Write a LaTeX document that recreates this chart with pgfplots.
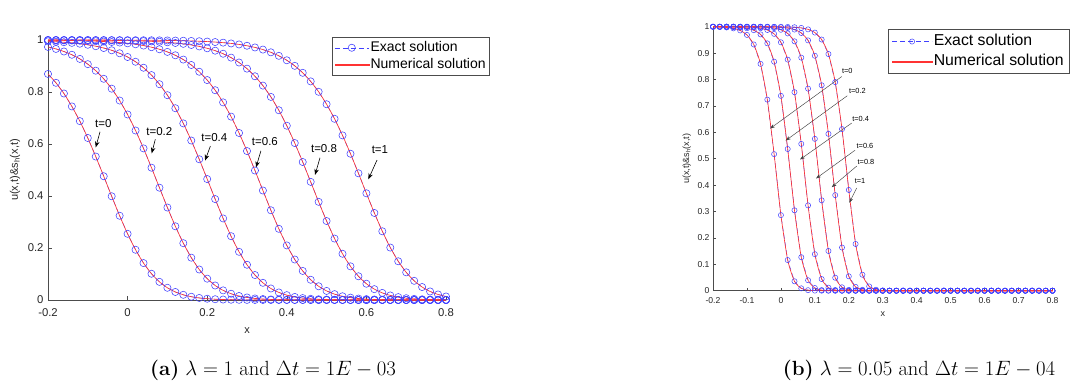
\documentclass[border=0pt]{standalone}
\usepackage{pgfplots}
\pgfplotsset{compat=1.18}
\usepackage{pgfplotstable}
\usepackage{fontspec}
\newfontfamily\arial{Liberation Sans}
\usetikzlibrary{arrows.meta}
\definecolor{mblue}{rgb}{0.25,0.25,1}
\definecolor{mred}{rgb}{1,0.2,0.2}
\definecolor{axgray}{rgb}{0.3,0.3,0.3}

\pgfplotstableread{
x a0 a1 a2 a3 a4 a5
-0.20 0.8694 0.9734 0.9949 0.9990 0.9998 1.0000
-0.18 0.8354 0.9657 0.9934 0.9988 0.9998 1.0000
-0.16 0.7942 0.9558 0.9915 0.9984 0.9997 0.9999
-0.14 0.7446 0.9432 0.9890 0.9979 0.9996 0.9999
-0.12 0.6880 0.9273 0.9857 0.9973 0.9995 0.9999
-0.10 0.6231 0.9071 0.9816 0.9965 0.9993 0.9999
-0.08 0.5517 0.8820 0.9762 0.9955 0.9992 0.9998
-0.06 0.4760 0.8508 0.9692 0.9941 0.9989 0.9998
-0.04 0.3990 0.8129 0.9604 0.9924 0.9986 0.9997
-0.02 0.3240 0.7672 0.9490 0.9901 0.9981 0.9997
0.00 0.2545 0.7135 0.9346 0.9872 0.9976 0.9995
0.02 0.1933 0.6519 0.9163 0.9835 0.9969 0.9994
0.04 0.1420 0.5831 0.8934 0.9786 0.9959 0.9992
0.06 0.1010 0.5089 0.8650 0.9724 0.9947 0.9990
0.08 0.0698 0.4320 0.8301 0.9644 0.9932 0.9987
0.10 0.0470 0.3557 0.7878 0.9542 0.9912 0.9983
0.12 0.0309 0.2835 0.7376 0.9412 0.9886 0.9978
0.14 0.0199 0.2185 0.6793 0.9247 0.9852 0.9972
0.16 0.0126 0.1628 0.6134 0.9039 0.9809 0.9964
0.18 0.0079 0.1174 0.5413 0.8779 0.9753 0.9953
0.20 0.0049 0.0821 0.4652 0.8459 0.9681 0.9939
0.22 0.0030 0.0558 0.3882 0.8069 0.9589 0.9921
0.24 0.0018 0.0371 0.3138 0.7601 0.9472 0.9898
0.26 0.0011 0.0241 0.2454 0.7053 0.9322 0.9868
0.28 0.0007 0.0154 0.1854 0.6425 0.9134 0.9829
0.30 0.0004 0.0097 0.1356 0.5729 0.8898 0.9779
0.32 0.0002 0.0060 0.0960 0.4981 0.8605 0.9714
0.34 0.0001 0.0037 0.0661 0.4211 0.8246 0.9631
0.36 0.0001 0.0023 0.0443 0.3452 0.7812 0.9526
0.38 0.0000 0.0014 0.0291 0.2738 0.7299 0.9391
0.40 0.0000 0.0008 0.0187 0.2100 0.6704 0.9220
0.42 0.0000 0.0005 0.0118 0.1557 0.6036 0.9006
0.44 0.0000 0.0003 0.0074 0.1118 0.5307 0.8738
0.46 0.0000 0.0002 0.0046 0.0779 0.4543 0.8408
0.48 0.0000 0.0001 0.0028 0.0528 0.3775 0.8008
0.50 0.0000 0.0000 0.0017 0.0349 0.3037 0.7529
0.52 0.0000 0.0000 0.0010 0.0226 0.2363 0.6969
0.54 0.0000 0.0000 0.0006 0.0144 0.1778 0.6331
0.56 0.0000 0.0000 0.0004 0.0091 0.1294 0.5626
0.58 0.0000 0.0000 0.0002 0.0056 0.0913 0.4873
0.60 0.0000 0.0000 0.0001 0.0035 0.0626 0.4103
0.62 0.0000 0.0000 0.0000 0.0021 0.0418 0.3348
0.64 0.0000 0.0000 0.0000 0.0013 0.0273 0.2643
0.66 0.0000 0.0000 0.0000 0.0008 0.0175 0.2017
0.68 0.0000 0.0000 0.0000 0.0005 0.0111 0.1489
0.70 0.0000 0.0000 0.0000 0.0003 0.0069 0.1064
0.72 0.0000 0.0000 0.0000 0.0002 0.0043 0.0738
0.74 0.0000 0.0000 0.0000 0.0001 0.0026 0.0499
0.76 0.0000 0.0000 0.0000 0.0001 0.0016 0.0329
0.78 0.0000 0.0000 0.0000 0.0000 0.0010 0.0213
0.80 0.0000 0.0000 0.0000 0.0000 0.0006 0.0135
}\tabA

\pgfplotstableread{
x b0 b1 b2 b3 b4 b5
-0.20 0.9994 0.9999 1.0000 1.0000 1.0000 1.0000
-0.18 0.9987 0.9998 1.0000 1.0000 1.0000 1.0000
-0.16 0.9971 0.9995 0.9999 1.0000 1.0000 1.0000
-0.14 0.9936 0.9988 0.9998 1.0000 1.0000 1.0000
-0.12 0.9859 0.9973 0.9995 0.9999 1.0000 1.0000
-0.10 0.9689 0.9940 0.9989 0.9998 1.0000 1.0000
-0.08 0.9328 0.9868 0.9975 0.9995 0.9999 1.0000
-0.06 0.8592 0.9709 0.9944 0.9989 0.9998 1.0000
-0.04 0.7238 0.9369 0.9876 0.9976 0.9996 0.9999
-0.02 0.5173 0.8675 0.9728 0.9948 0.9990 0.9998
0.00 0.2863 0.7381 0.9409 0.9884 0.9978 0.9996
0.02 0.1162 0.5367 0.8753 0.9745 0.9951 0.9991
0.04 0.0356 0.3045 0.7519 0.9446 0.9892 0.9979
0.06 0.0089 0.1269 0.5561 0.8828 0.9762 0.9954
0.08 0.0020 0.0396 0.3232 0.7653 0.9482 0.9899
0.10 0.0004 0.0101 0.1383 0.5752 0.8899 0.9777
0.12 0.0001 0.0023 0.0442 0.3424 0.7782 0.9514
0.14 0.0000 0.0005 0.0114 0.1505 0.5941 0.8965
0.16 0.0000 0.0001 0.0026 0.0491 0.3621 0.7902
0.18 0.0000 0.0000 0.0006 0.0129 0.1635 0.6122
0.20 0.0000 0.0000 0.0001 0.0030 0.0546 0.3816
0.22 0.0000 0.0000 0.0000 0.0006 0.0145 0.1770
0.24 0.0000 0.0000 0.0000 0.0001 0.0034 0.0605
0.26 0.0000 0.0000 0.0000 0.0000 0.0007 0.0163
0.28 0.0000 0.0000 0.0000 0.0000 0.0002 0.0038
0.30 0.0000 0.0000 0.0000 0.0000 0.0000 0.0008
0.32 0.0000 0.0000 0.0000 0.0000 0.0000 0.0002
0.34 0 0 0 0 0 0
0.36 0 0 0 0 0 0
0.38 0 0 0 0 0 0
0.40 0 0 0 0 0 0
0.42 0 0 0 0 0 0
0.44 0 0 0 0 0 0
0.46 0 0 0 0 0 0
0.48 0 0 0 0 0 0
0.50 0 0 0 0 0 0
0.52 0 0 0 0 0 0
0.54 0 0 0 0 0 0
0.56 0 0 0 0 0 0
0.58 0 0 0 0 0 0
0.60 0 0 0 0 0 0
0.62 0 0 0 0 0 0
0.64 0 0 0 0 0 0
0.66 0 0 0 0 0 0
0.68 0 0 0 0 0 0
0.70 0 0 0 0 0 0
0.72 0 0 0 0 0 0
0.74 0 0 0 0 0 0
0.76 0 0 0 0 0 0
0.78 0 0 0 0 0 0
0.80 0 0 0 0 0 0
}\tabB

\pgfplotsset{
  exA/.style={mblue, line width=0.45pt, dash pattern=on 5pt off 3pt, mark=o, mark size=3.6pt, mark options={solid, line width=0.55pt}},
  numA/.style={mred, line width=0.65pt, smooth, tension=0.4},
  exB/.style={mblue, line width=0.45pt, dash pattern=on 5pt off 3pt, mark=o, mark size=2.6pt, mark options={solid, line width=0.5pt}},
  numB/.style={mred, line width=0.65pt, smooth, tension=0.4},
}
\tikzset{
  arrA/.style={-{Stealth[length=6pt,width=4.5pt]}, black, line width=0.6pt},
  arrB/.style={-{Stealth[length=5pt,width=3.5pt]}, black!75, line width=0.45pt},
}

\begin{document}
\begin{tikzpicture}
\path[use as bounding box] (0pt,0pt) rectangle (1073pt,-385pt);

% ---------------- (a)
\begin{axis}[
  at={(48pt,-300pt)}, anchor=south west, scale only axis,
  width=398pt, height=260pt,
  xmin=-0.2, xmax=0.8, ymin=0, ymax=1,
  axis x line*=bottom, axis y line*=left,
  axis line style={axgray, line width=0.5pt},
  xtick={-0.2,0,0.2,0.4,0.6,0.8}, xticklabels={-0.2,0,0.2,0.4,0.6,0.8},
  ytick={0,0.2,0.4,0.6,0.8,1}, yticklabels={0,0.2,0.4,0.6,0.8,1},
  xtick align=inside, ytick align=inside, major tick length=4pt,
  tick style={axgray, line width=0.5pt},
  ticklabel style={font=\arial\fontsize{11.3}{13}\selectfont, text=black!85},
  xticklabel style={yshift=-5.5pt},
  yticklabel style={xshift=-1pt},
  xlabel={x}, ylabel={u(x,t)\&s\textsubscript{h}(x,t)},
  every axis x label/.style={at={(axis description cs:0.5,-0.119)}, anchor=center, font=\arial\fontsize{11}{13}\selectfont, text=black!85},
  every axis y label/.style={at={(axis description cs:-0.083,0.5)}, anchor=center, rotate=90, font=\arial\fontsize{11}{13}\selectfont, text=black!85},
  legend image code/.code={\draw[mark repeat=2,mark phase=2,#1] plot coordinates {(0pt,0pt) (17pt,0pt) (34pt,0pt)};},
  legend style={name=legA, at={(1.109,1.01)}, anchor=north east, draw=none,
    font=\arial\fontsize{14}{16}\selectfont, inner xsep=2pt, inner ysep=1.5pt,
    nodes={inner sep=1.5pt, text height=10.5pt, text depth=3.8pt}},
  legend cell align=left,
  clip=false,
]
\addlegendimage{exA}
\addlegendentry{Exact solution}
\addlegendimage{legend image code/.code={\fill[mred] (0pt,-0.55pt) rectangle (34pt,0.55pt);}}
\addlegendentry{Numerical solution}
\addplot[exA, forget plot] table[x=x,y=a0]{\tabA};
\addplot[exA, forget plot] table[x=x,y=a1]{\tabA};
\addplot[exA, forget plot] table[x=x,y=a2]{\tabA};
\addplot[exA, forget plot] table[x=x,y=a3]{\tabA};
\addplot[exA, forget plot] table[x=x,y=a4]{\tabA};
\addplot[exA, forget plot] table[x=x,y=a5]{\tabA};
\addplot[numA, forget plot] table[x=x,y=a0]{\tabA};
\addplot[numA, forget plot] table[x=x,y=a1]{\tabA};
\addplot[numA, forget plot] table[x=x,y=a2]{\tabA};
\addplot[numA, forget plot] table[x=x,y=a3]{\tabA};
\addplot[numA, forget plot] table[x=x,y=a4]{\tabA};
\addplot[numA, forget plot] table[x=x,y=a5]{\tabA};

\begin{scope}[font=\arial\fontsize{11.5}{13}\selectfont]
\node at (axis cs:-0.061,0.680) {t=0};
\draw[arrA] (axis cs:-0.0693,0.647) -- (axis cs:-0.0801,0.587);
\node at (axis cs:0.0797,0.647) {t=0.2};
\draw[arrA] (axis cs:0.0696,0.618) -- (axis cs:0.0605,0.564);
\node at (axis cs:0.218,0.626) {t=0.4};
\draw[arrA] (axis cs:0.208,0.592) -- (axis cs:0.1945,0.536);
\node at (axis cs:0.345,0.609) {t=0.6};
\draw[arrA] (axis cs:0.335,0.574) -- (axis cs:0.3226,0.510);
\node at (axis cs:0.4935,0.583) {t=0.8};
\draw[arrA] (axis cs:0.4834,0.547) -- (axis cs:0.4709,0.481);
\node at (axis cs:0.634,0.577) {t=1};
\draw[arrA] (axis cs:0.6266,0.538) -- (axis cs:0.6048,0.464);
\end{scope}
\end{axis}
\draw[axgray, line width=0.5pt] (legA.south west) rectangle (legA.north east);

% ---------------- (b)
\begin{axis}[
  at={(713pt,-290.7pt)}, anchor=south west, scale only axis,
  width=339.5pt, height=264pt,
  xmin=-0.2, xmax=0.8, ymin=0, ymax=1,
  axis x line*=bottom, axis y line*=left,
  axis line style={axgray, line width=0.5pt},
  xtick={-0.2,-0.1,0,0.1,0.2,0.3,0.4,0.5,0.6,0.7,0.8},
  xticklabels={-0.2,-0.1,0,0.1,0.2,0.3,0.4,0.5,0.6,0.7,0.8},
  ytick={0,0.1,0.2,0.3,0.4,0.5,0.6,0.7,0.8,0.9,1},
  yticklabels={0,0.1,0.2,0.3,0.4,0.5,0.6,0.7,0.8,0.9,1},
  xtick align=inside, ytick align=inside, major tick length=3pt,
  tick style={axgray, line width=0.5pt},
  ticklabel style={font=\arial\fontsize{8.6}{10}\selectfont, text=black!85},
  xticklabel style={yshift=-3pt},
  xlabel={x}, ylabel={u(x,t)\&s\textsubscript{h}(x,t)},
  every axis x label/.style={at={(axis description cs:0.5,-0.088)}, anchor=center, font=\arial\fontsize{9}{11}\selectfont, text=black!85},
  every axis y label/.style={at={(axis description cs:-0.077,0.5)}, anchor=center, rotate=90, font=\arial\fontsize{9}{11}\selectfont, text=black!85},
  legend image code/.code={\draw[mark repeat=2,mark phase=2,#1] plot coordinates {(0pt,0pt) (20pt,0pt) (40pt,0pt)};},
  legend style={name=legB, at={(1.0485,0.99)}, anchor=north east, draw=none,
    font=\arial\fontsize{15.8}{18}\selectfont, inner xsep=3.5pt, inner ysep=2pt,
    nodes={inner sep=1.5pt, text height=12.5pt, text depth=4.5pt}},
  legend cell align=left,
  clip=false,
]
\addlegendimage{exB}
\addlegendentry{Exact solution}
\addlegendimage{legend image code/.code={\fill[mred] (0pt,-0.55pt) rectangle (40pt,0.55pt);}}
\addlegendentry{Numerical solution}
\addplot[exB, forget plot] table[x=x,y=b0]{\tabB};
\addplot[exB, forget plot] table[x=x,y=b1]{\tabB};
\addplot[exB, forget plot] table[x=x,y=b2]{\tabB};
\addplot[exB, forget plot] table[x=x,y=b3]{\tabB};
\addplot[exB, forget plot] table[x=x,y=b4]{\tabB};
\addplot[exB, forget plot] table[x=x,y=b5]{\tabB};
\addplot[numB, forget plot] table[x=x,y=b0]{\tabB};
\addplot[numB, forget plot] table[x=x,y=b1]{\tabB};
\addplot[numB, forget plot] table[x=x,y=b2]{\tabB};
\addplot[numB, forget plot] table[x=x,y=b3]{\tabB};
\addplot[numB, forget plot] table[x=x,y=b4]{\tabB};
\addplot[numB, forget plot] table[x=x,y=b5]{\tabB};

\begin{scope}[font=\arial\fontsize{7.4}{9}\selectfont]
\node at (axis cs:0.1956,0.833) {t=0};
\draw[arrB] (axis cs:0.179,0.811) -- (axis cs:-0.0321,0.614);
\node at (axis cs:0.2253,0.755) {t=0.2};
\draw[arrB] (axis cs:0.1956,0.7385) -- (axis cs:0.0141,0.5687);
\node at (axis cs:0.235,0.652) {t=0.4};
\draw[arrB] (axis cs:0.2085,0.635) -- (axis cs:0.0563,0.497);
\node at (axis cs:0.2477,0.547) {t=0.6};
\draw[arrB] (axis cs:0.2183,0.532) -- (axis cs:0.1034,0.425);
\node at (axis cs:0.2507,0.487) {t=0.8};
\draw[arrB] (axis cs:0.2233,0.472) -- (axis cs:0.1496,0.392);
\node at (axis cs:0.233,0.415) {t=1};
\draw[arrB] (axis cs:0.2233,0.389) -- (axis cs:0.2015,0.333);
\end{scope}
\end{axis}
\draw[axgray, line width=0.5pt] (legB.south west) rectangle (legB.north east);

% captions
\node[font=\fontsize{20.5}{24}\selectfont] at (273pt,-370pt) {\textbf{(a)} $\lambda=1$ and $\Delta t=1E-03$};
\node[font=\fontsize{20.5}{24}\selectfont] at (919pt,-370pt) {\textbf{(b)} $\lambda=0.05$ and $\Delta t=1E-04$};
\end{tikzpicture}
\end{document}
